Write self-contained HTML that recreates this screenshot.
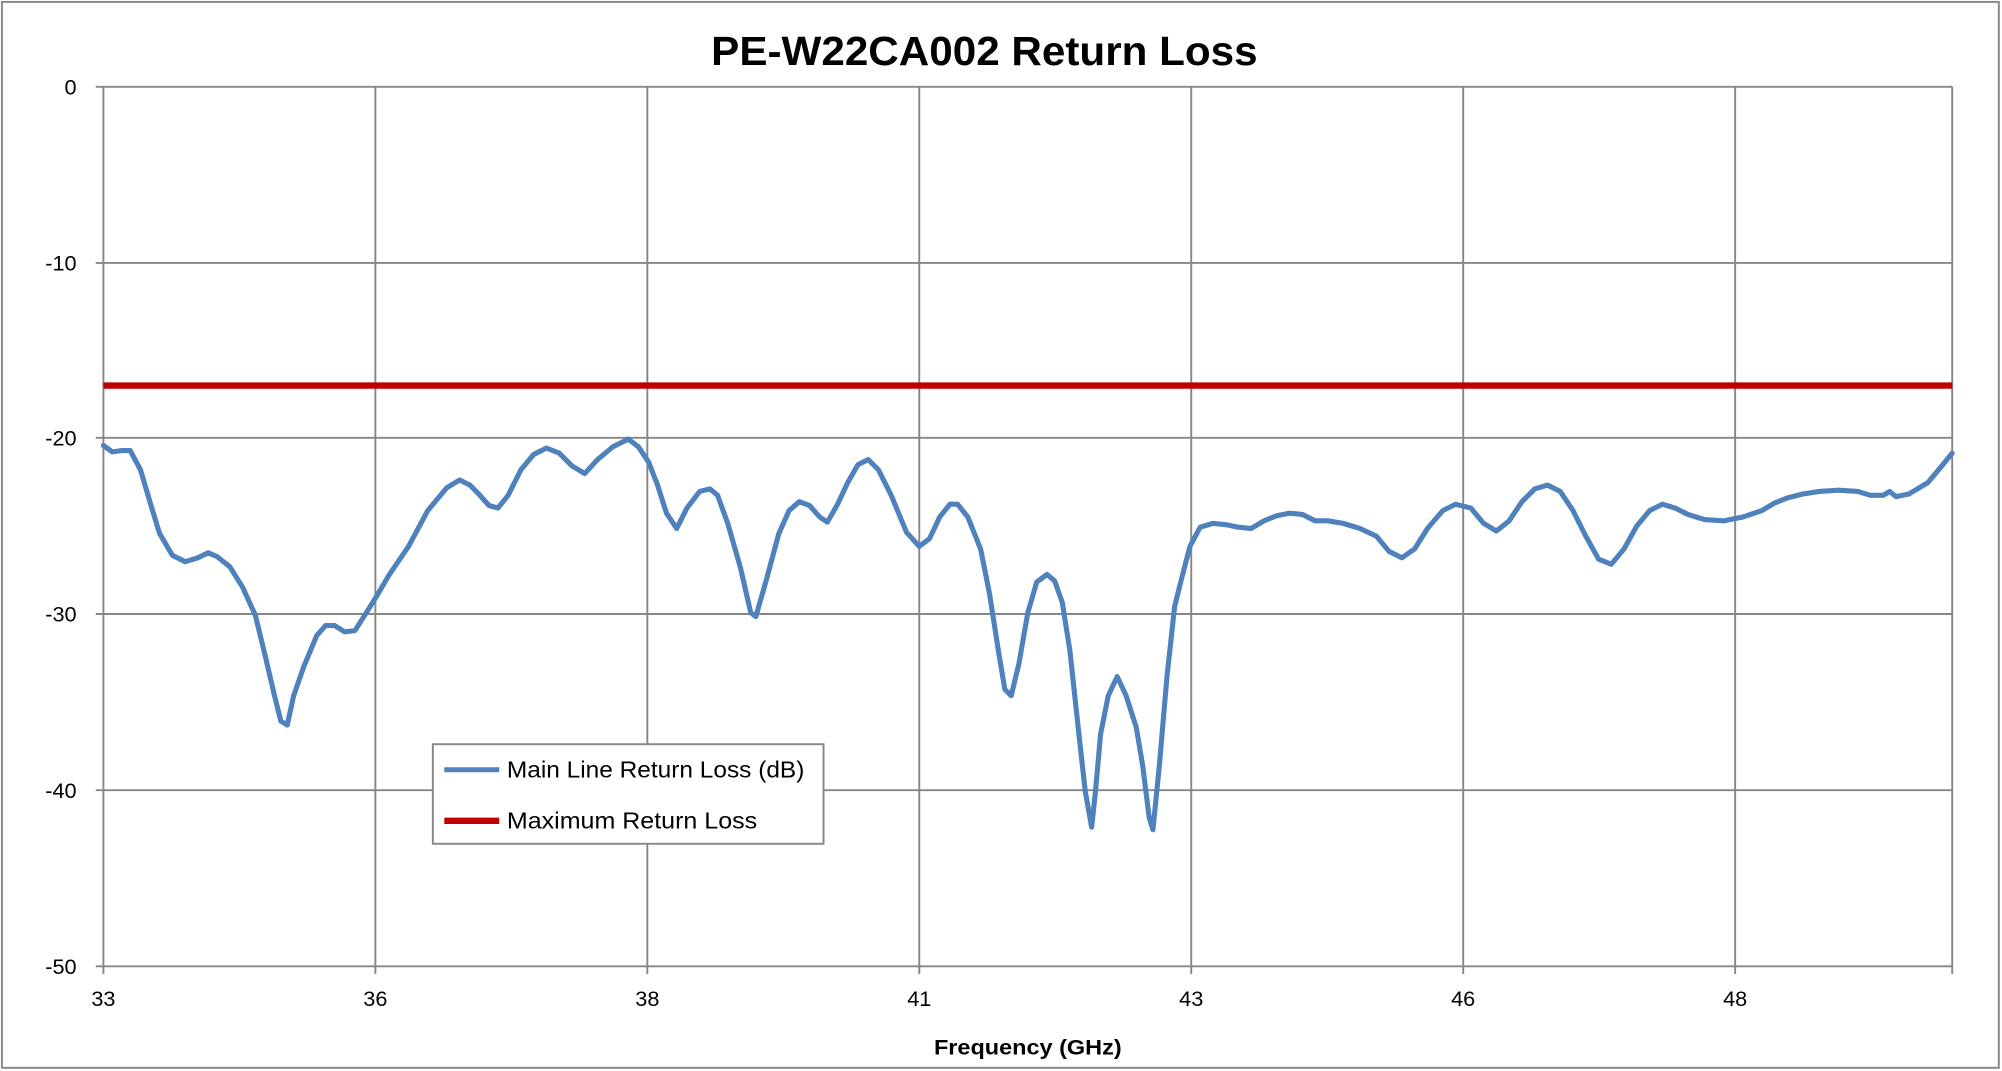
<!DOCTYPE html>
<html><head><meta charset="utf-8"><style>
html,body{margin:0;padding:0;background:#fff;}
svg{display:block;}
text{font-family:"Liberation Sans",sans-serif;fill:#000;}
</style></head><body>
<svg width="2002" height="1071" viewBox="0 0 1568 839" preserveAspectRatio="none">
<rect x="0" y="0" width="1568" height="839" fill="#fff"/>
<rect x="1.5" y="1.5" width="1564" height="835" fill="none" stroke="#868686" stroke-width="1.5"/>
<text x="771" y="51" font-size="32" font-weight="bold" text-anchor="middle" textLength="428" lengthAdjust="spacingAndGlyphs">PE-W22CA002 Return Loss</text>
<g stroke="#868686" stroke-width="1.5" fill="none">
<line x1="75" y1="68" x2="1529" y2="68"/>
<line x1="75" y1="206" x2="1529" y2="206"/>
<line x1="75" y1="343" x2="1529" y2="343"/>
<line x1="75" y1="481" x2="1529" y2="481"/>
<line x1="75" y1="619" x2="1529" y2="619"/>
<line x1="75" y1="757" x2="1529" y2="757"/>
<line x1="81" y1="68" x2="81" y2="763"/>
<line x1="294" y1="68" x2="294" y2="763"/>
<line x1="507" y1="68" x2="507" y2="763"/>
<line x1="720" y1="68" x2="720" y2="763"/>
<line x1="933" y1="68" x2="933" y2="763"/>
<line x1="1146" y1="68" x2="1146" y2="763"/>
<line x1="1359" y1="68" x2="1359" y2="763"/>
<line x1="1529" y1="68" x2="1529" y2="763"/>
</g>
<g font-size="17" text-anchor="end">
<text x="60" y="74">0</text>
<text x="60" y="212">-10</text>
<text x="60" y="349">-20</text>
<text x="60" y="487">-30</text>
<text x="60" y="625">-40</text>
<text x="60" y="763">-50</text>
</g>
<g font-size="17" text-anchor="middle">
<text x="81" y="788">33</text>
<text x="294" y="788">36</text>
<text x="507" y="788">38</text>
<text x="720" y="788">41</text>
<text x="933" y="788">43</text>
<text x="1146" y="788">46</text>
<text x="1359" y="788">48</text>
</g>
<text x="805" y="826" font-size="17" font-weight="bold" text-anchor="middle" textLength="147" lengthAdjust="spacingAndGlyphs">Frequency (GHz)</text>
<line x1="81" y1="302" x2="1529" y2="302" stroke="#c00000" stroke-width="5"/>
<polyline fill="none" stroke="#4f81bd" stroke-width="4" stroke-linejoin="round" stroke-linecap="round" points="81,349 88,354 95,353 102,353 110,368 118,395 125,418 135,435 145,440 155,437 163,433 170,436 180,444 190,460 200,482 208,515 215,545 220,565 225,568 230,545 238,522 248,498 255,490 262,490 270,495 278,494 285,483 295,467 305,450 320,428 335,400 350,382 360,376 368,380 375,387 383,396 390,398 398,388 408,368 418,356 428,351 438,355 448,365 458,371 468,360 480,350 492,344 500,350 508,362 515,380 522,402 530,414 538,398 548,385 556,383 562,388 570,410 580,445 588,480 592,483 600,455 610,418 618,400 626,393 634,396 642,405 648,409 656,395 664,378 672,364 680,360 688,368 698,388 710,417 720,428 728,422 736,405 744,395 750,395 758,405 768,430 775,465 782,510 787,540 792,545 798,520 805,480 812,456 820,450 826,455 832,472 838,510 845,575 850,620 855,648 858,620 862,575 868,545 875,530 882,545 890,570 895,600 900,640 903,650 908,600 914,530 920,475 925,455 932,428 940,413 950,410 960,411 970,413 980,414 990,408 1000,404 1010,402 1020,403 1030,408 1040,408 1052,410 1065,414 1078,420 1088,432 1098,437 1108,430 1118,414 1130,400 1140,395 1152,398 1162,410 1172,416 1182,408 1192,393 1202,383 1212,380 1222,385 1232,400 1242,420 1252,438 1262,442 1272,430 1282,412 1292,400 1302,395 1312,398 1322,403 1335,407 1350,408 1365,405 1380,400 1390,394 1400,390 1412,387 1425,385 1440,384 1455,385 1465,388 1475,388 1480,385 1485,389 1495,387 1510,378 1520,366 1529,355"/>
<rect x="339" y="583" width="306" height="78" fill="#fff" stroke="#868686" stroke-width="1.5"/>
<line x1="348" y1="603" x2="391" y2="603" stroke="#4f81bd" stroke-width="4"/>
<line x1="348" y1="643" x2="391" y2="643" stroke="#c00000" stroke-width="5"/>
<text x="397" y="609" font-size="18" textLength="233" lengthAdjust="spacingAndGlyphs">Main Line Return Loss (dB)</text>
<text x="397" y="649" font-size="18" textLength="196" lengthAdjust="spacingAndGlyphs">Maximum Return Loss</text>
</svg>
</body></html>
